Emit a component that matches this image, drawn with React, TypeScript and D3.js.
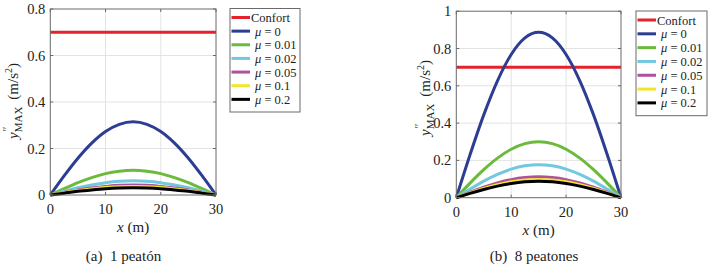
import React from "react";
import * as d3 from "d3";

const xs = [0, 2.5, 5, 7.5, 10, 12.5, 15, 17.5, 20, 22.5, 25, 27.5, 30];
const seriesNames = ["Confort", "μ = 0", "μ = 0.01", "μ = 0.02", "μ = 0.05", "μ = 0.1", "μ = 0.2"];
const colors = ["#e3222b", "#2c3d92", "#6cba3c", "#72c8de", "#b0519c", "#f2e52b", "#000000"];

const confort = [0.7, 0.7, 0.7, 0.7, 0.7, 0.7, 0.7, 0.7, 0.7, 0.7, 0.7, 0.7, 0.7];

const a_mu0 = [0, 0.082, 0.158, 0.223, 0.273, 0.304, 0.315, 0.304, 0.273, 0.223, 0.158, 0.082, 0];
const a_mu001 = [0, 0.027, 0.053, 0.075, 0.092, 0.102, 0.106, 0.102, 0.092, 0.075, 0.053, 0.027, 0];
const a_mu002 = [0, 0.016, 0.031, 0.043, 0.053, 0.059, 0.061, 0.059, 0.053, 0.043, 0.031, 0.016, 0];
const a_mu005 = [0, 0.011, 0.022, 0.030, 0.037, 0.042, 0.043, 0.042, 0.037, 0.030, 0.022, 0.011, 0];
const a_mu01 = [0, 0.010, 0.019, 0.026, 0.032, 0.036, 0.037, 0.036, 0.032, 0.026, 0.019, 0.010, 0];
const a_mu02 = [0, 0.008, 0.016, 0.022, 0.027, 0.030, 0.031, 0.030, 0.027, 0.022, 0.016, 0.008, 0];

const b_mu0 = [0, 0.230, 0.444, 0.627, 0.768, 0.857, 0.887, 0.857, 0.768, 0.627, 0.444, 0.230, 0];
const b_mu001 = [0, 0.078, 0.150, 0.212, 0.260, 0.290, 0.300, 0.290, 0.260, 0.212, 0.150, 0.078, 0];
const b_mu002 = [0, 0.046, 0.089, 0.125, 0.153, 0.171, 0.177, 0.171, 0.153, 0.125, 0.089, 0.046, 0];
const b_mu005 = [0, 0.029, 0.056, 0.079, 0.097, 0.108, 0.112, 0.108, 0.097, 0.079, 0.056, 0.029, 0];
const b_mu01 = [0, 0.025, 0.049, 0.069, 0.085, 0.095, 0.098, 0.095, 0.085, 0.069, 0.049, 0.025, 0];
const b_mu02 = [0, 0.023, 0.044, 0.062, 0.076, 0.085, 0.088, 0.085, 0.076, 0.062, 0.044, 0.023, 0];

const xTicks = [0, 10, 20, 30];
const aYTicks = [0, 0.2, 0.4, 0.6, 0.8];
const bYTicks = [0, 0.2, 0.4, 0.6, 0.8, 1];
const aTickLabels = ["0", "0.2", "0.4", "0.6", "0.8"];
const bTickLabels = ["0", "0.2", "0.4", "0.6", "0.8", "1"];

const FONT = "Liberation Serif";

type PanelProps = {
  left: number; right: number; top: number; bottom: number;
  yMax: number; yTicks: number[]; yLabels: string[];
  series: number[][];
  legend: { x: number; y: number; w: number; h: number };
  caption: string; captionX: number; captionY: number;
  yLabelX: number; yLabelY: number;
};

function Panel(p: PanelProps) {
  const x = d3.scaleLinear().domain([0, 30]).range([p.left, p.right]);
  const y = d3.scaleLinear().domain([0, p.yMax]).range([p.bottom, p.top]);
  const line = d3.line<number>().x((_, i) => x(xs[i])).y((v) => y(v)).curve(d3.curveMonotoneX);
  const rowH = (p.legend.h - 8) / seriesNames.length;
  const ts = { fontFamily: FONT };
  return (
    <g>
      <rect x={p.left} y={p.top} width={p.right - p.left} height={p.bottom - p.top} fill="#fff" />
      {xTicks.slice(1, -1).map((t) => (
        <line key={"gx" + t} x1={x(t)} x2={x(t)} y1={p.top} y2={p.bottom} stroke="#e3e3e3" strokeWidth={1} />
      ))}
      {p.yTicks.slice(1, -1).map((t) => (
        <line key={"gy" + t} x1={p.left} x2={p.right} y1={y(t)} y2={y(t)} stroke="#e3e3e3" strokeWidth={1} />
      ))}
      {p.series.map((s, i) => (
        <path key={i} d={line(s) || ""} fill="none" stroke={colors[i]} strokeWidth={3} />
      ))}
      <rect x={p.left} y={p.top} width={p.right - p.left} height={p.bottom - p.top} fill="none" stroke="#6a6a6a" strokeWidth={1} />
      {xTicks.map((t) => (
        <g key={"tx" + t}>
          <line x1={x(t)} x2={x(t)} y1={p.bottom} y2={p.bottom - 3} stroke="#6a6a6a" />
          <line x1={x(t)} x2={x(t)} y1={p.top} y2={p.top + 3} stroke="#6a6a6a" />
          <text x={x(t)} y={p.bottom + 19} textAnchor="middle" fontSize={14.5} fill="#222" style={ts}>{t}</text>
        </g>
      ))}
      {p.yTicks.map((t, i) => (
        <g key={"ty" + t}>
          <line x1={p.left} x2={p.left + 3} y1={y(t)} y2={y(t)} stroke="#6a6a6a" />
          <line x1={p.right} x2={p.right - 3} y1={y(t)} y2={y(t)} stroke="#6a6a6a" />
          <text x={p.left - 5} y={y(t) + 5} textAnchor="end" fontSize={14.5} fill="#222" style={ts}>{p.yLabels[i]}</text>
        </g>
      ))}
      <text x={(p.left + p.right) / 2} y={p.bottom + 37} textAnchor="middle" fontSize={15} fill="#222" style={ts}>
        <tspan fontStyle="italic">x</tspan> (m)
      </text>
      <text transform={`translate(${p.yLabelX},${p.yLabelY}) rotate(-90)`} textAnchor="middle" fontSize={15} fill="#222" style={ts}>
        <tspan fontStyle="italic">y</tspan>
        <tspan fontSize={12} dy={-7} fontStyle="italic">″</tspan>
        <tspan fontSize={11} dx={-5} dy={11}>MAX</tspan>
        <tspan dy={-4} dx={7}>(m/s</tspan>
        <tspan fontSize={10} dy={-6}>2</tspan>
        <tspan dy={6}>)</tspan>
      </text>
      <rect x={p.legend.x} y={p.legend.y} width={p.legend.w} height={p.legend.h} fill="#fff" stroke="#6a6a6a" strokeWidth={1} />
      {seriesNames.map((n, i) => {
        const cy = p.legend.y + 9 + rowH * i;
        const isMu = i > 0;
        return (
          <g key={"lg" + i}>
            <line x1={p.legend.x + 1.5} x2={p.legend.x + 20} y1={cy} y2={cy} stroke={colors[i]} strokeWidth={3} />
            <text x={p.legend.x + (isMu ? 25 : 21)} y={cy + 4.5} fontSize={12.5} fill="#222" style={ts}>
              {isMu ? (
                <>
                  <tspan fontStyle="italic">μ</tspan>
                  <tspan>{n.slice(1)}</tspan>
                </>
              ) : n}
            </text>
          </g>
        );
      })}
      <text x={p.captionX} y={p.captionY} textAnchor="middle" fontSize={15} fill="#222" style={{ fontFamily: FONT, whiteSpace: "pre" }}>{p.caption}</text>
    </g>
  );
}

export default function App() {
  return (
    <svg width={715} height={269} style={{ position: "absolute", left: 0, top: 0, background: "#fff" }}>
      <rect width={715} height={269} fill="#fff" />
      <Panel
        left={50.3} right={216} top={9} bottom={195}
        yMax={0.8} yTicks={aYTicks} yLabels={aTickLabels}
        series={[confort, a_mu0, a_mu001, a_mu002, a_mu005, a_mu01, a_mu02]}
        legend={{ x: 230, y: 8.5, w: 70, h: 103.5 }}
        caption="(a)  1 peatón" captionX={123.5} captionY={261}
        yLabelX={18} yLabelY={101}
      />
      <Panel
        left={456.3} right={621} top={11.2} bottom={197.7}
        yMax={1} yTicks={bYTicks} yLabels={bTickLabels}
        series={[confort, b_mu0, b_mu001, b_mu002, b_mu005, b_mu01, b_mu02]}
        legend={{ x: 636, y: 11, w: 71, h: 104.7 }}
        caption="(b)  8 peatones" captionX={534} captionY={261}
        yLabelX={430} yLabelY={98}
      />
    </svg>
  );
}
